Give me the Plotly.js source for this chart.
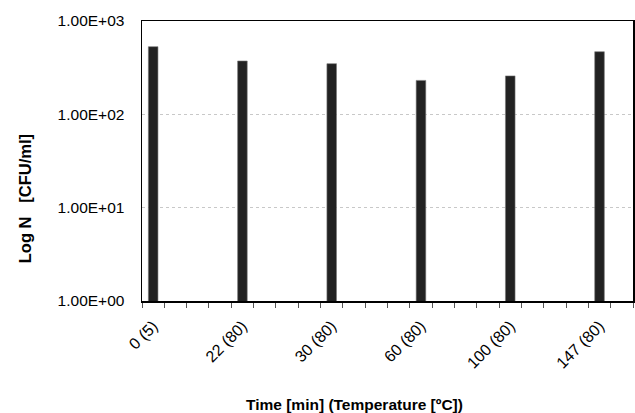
<!DOCTYPE html>
<html>
<head>
<meta charset="utf-8">
<script src="https://cdn.plot.ly/plotly-3.0.1.min.js"></script>
<style>html,body{margin:0;padding:0;background:#fff;}#chart{width:635px;height:413px;}</style>
</head>
<body>
<div id="chart"></div>
<script>
const categories = ["0 (5)", "22 (80)", "30 (80)", "60 (80)", "100 (80)", "147 (80)"];
const counts = [531, 373, 349, 231, 258, 469];
const yTickVals = [1, 10, 100, 1000];
const yTickText = ["1.00E+00", "1.00E+01", "1.00E+02", "1.00E+03"];

const SLOT = 4;          // slots per labelled category (layout spacing)
const NSLOTS = 22;
const xs = categories.map((c, i) => i * SLOT);

const trace = {
  type: 'bar',
  x: xs,
  y: counts,
  width: 0.43,
  marker: {color: '#222222', line: {color: '#777777', width: 0.6}},
  hoverinfo: 'x+y'
};

const family = 'Liberation Sans, Arial, sans-serif';
const yTickFont = {family: family, size: 15.5, color: '#000'};
const xTickFont = {family: family, size: 16, color: '#000'};
const titleFont = {family: family, size: 15.5, color: '#000'};
const yTitleFont = {family: family, size: 16.5, color: '#000'};

const layout = {
  width: 635, height: 413,
  margin: {l: 142, r: 2, t: 21, b: 112, pad: 0},
  paper_bgcolor: '#fff', plot_bgcolor: '#fff',
  showlegend: false,
  font: yTickFont,
  bargap: 0,
  xaxis: {
    range: [-0.5, NSLOTS - 0.5],
    tickmode: 'array', tickvals: xs, ticktext: categories,
    ticks: 'outside', ticklen: 8, tickcolor: 'rgba(0,0,0,0)', tickangle: -45,
    showgrid: false, zeroline: false,
    showline: true, linecolor: '#000', linewidth: 1.5, mirror: true,
    tickfont: xTickFont,
    minor: {tickmode: 'linear', tick0: -0.5, dtick: 1, ticks: 'outside', ticklen: 5, tickwidth: 1, tickcolor: '#555', showgrid: false}
  },
  yaxis: {
    type: 'log', range: [0, 3],
    tickmode: 'array', tickvals: yTickVals, ticktext: yTickText,
    ticks: 'outside', ticklen: 13, tickwidth: 1, tickcolor: 'rgba(0,0,0,0)',
    showgrid: true, gridcolor: '#c8c8c8', gridwidth: 1, griddash: 'dot',
    zeroline: false,
    showline: true, linecolor: '#000', linewidth: 1.5, mirror: true,
    tickfont: yTickFont
  },
  yaxis2: {
    type: 'log', range: [0, 3], overlaying: 'y', side: 'left',
    tickmode: 'array', tickvals: yTickVals,
    ticks: 'outside', ticklen: 5, tickwidth: 1, tickcolor: '#000',
    showticklabels: false, showgrid: false, zeroline: false, showline: false
  },
  annotations: [
    {text: '<b>Time [min] (Temperature [ºC])</b>', xref: 'paper', yref: 'paper',
     x: 0.432, y: -0.371, xanchor: 'center', yanchor: 'middle', showarrow: false, font: titleFont},
    {text: '<b>Log N \u00a0\u00a0[CFU/ml]</b>', xref: 'paper', yref: 'paper',
     x: -0.238, y: 0.364, xanchor: 'center', yanchor: 'middle', textangle: -90, showarrow: false, font: yTitleFont}
  ]
};

Plotly.newPlot('chart', [trace], layout, {displayModeBar: false, staticPlot: true});
</script>
</body>
</html>
